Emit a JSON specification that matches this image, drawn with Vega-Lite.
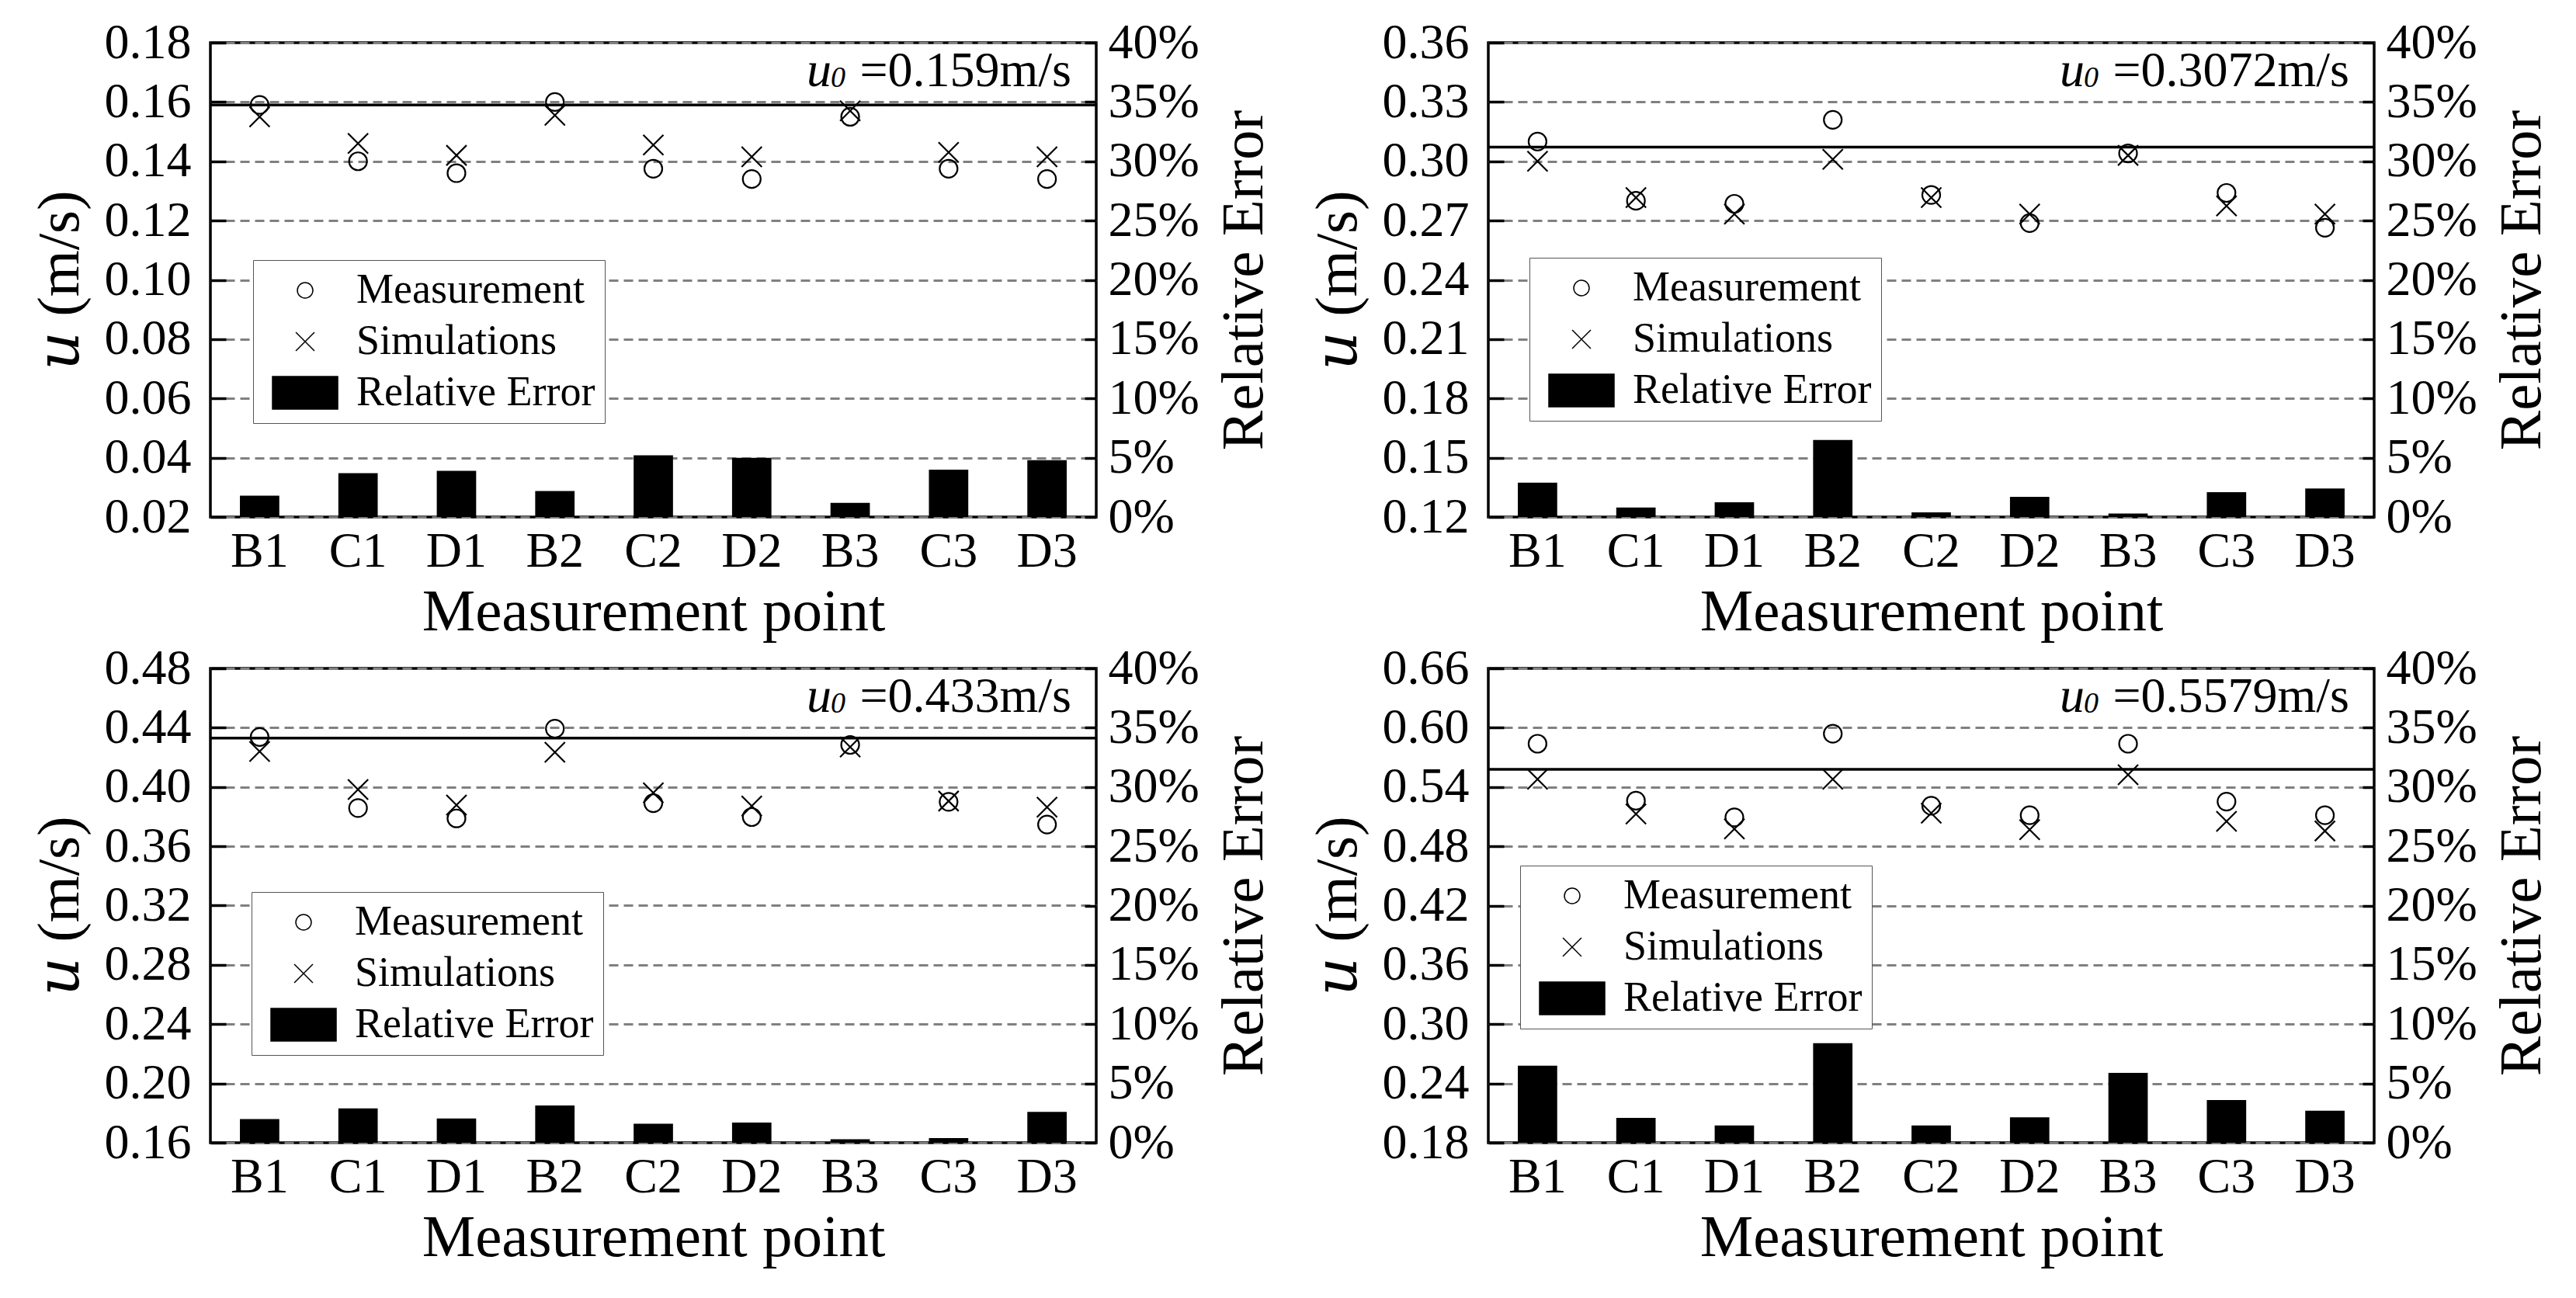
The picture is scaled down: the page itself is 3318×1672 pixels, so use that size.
{
  "$schema": "https://vega.github.io/schema/vega-lite/v6.json",
  "background": "white",
  "padding": {"left": 36, "top": 21, "right": 5, "bottom": 5},
  "datasets": {
    "p1": [
      {"point": "B1", "series": "Measurement", "u": 0.159},
      {"point": "C1", "series": "Measurement", "u": 0.140},
      {"point": "D1", "series": "Measurement", "u": 0.136},
      {"point": "B2", "series": "Measurement", "u": 0.160},
      {"point": "C2", "series": "Measurement", "u": 0.1375},
      {"point": "D2", "series": "Measurement", "u": 0.134},
      {"point": "B3", "series": "Measurement", "u": 0.155},
      {"point": "C3", "series": "Measurement", "u": 0.1375},
      {"point": "D3", "series": "Measurement", "u": 0.134},
      {"point": "B1", "series": "Simulations", "u": 0.155},
      {"point": "C1", "series": "Simulations", "u": 0.146},
      {"point": "D1", "series": "Simulations", "u": 0.142},
      {"point": "B2", "series": "Simulations", "u": 0.1555},
      {"point": "C2", "series": "Simulations", "u": 0.1455},
      {"point": "D2", "series": "Simulations", "u": 0.1415},
      {"point": "B3", "series": "Simulations", "u": 0.157},
      {"point": "C3", "series": "Simulations", "u": 0.143},
      {"point": "D3", "series": "Simulations", "u": 0.1415},
      {"point": "B1", "series": "Relative Error", "err": 0.018},
      {"point": "C1", "series": "Relative Error", "err": 0.037},
      {"point": "D1", "series": "Relative Error", "err": 0.039},
      {"point": "B2", "series": "Relative Error", "err": 0.022},
      {"point": "C2", "series": "Relative Error", "err": 0.052},
      {"point": "D2", "series": "Relative Error", "err": 0.050},
      {"point": "B3", "series": "Relative Error", "err": 0.012},
      {"point": "C3", "series": "Relative Error", "err": 0.040},
      {"point": "D3", "series": "Relative Error", "err": 0.048},
      {"series": "u0", "u": 0.159}
    ],
    "p2": [
      {"point": "B1", "series": "Measurement", "u": 0.310},
      {"point": "C1", "series": "Measurement", "u": 0.280},
      {"point": "D1", "series": "Measurement", "u": 0.2785},
      {"point": "B2", "series": "Measurement", "u": 0.321},
      {"point": "C2", "series": "Measurement", "u": 0.283},
      {"point": "D2", "series": "Measurement", "u": 0.2687},
      {"point": "B3", "series": "Measurement", "u": 0.304},
      {"point": "C3", "series": "Measurement", "u": 0.284},
      {"point": "D3", "series": "Measurement", "u": 0.2664},
      {"point": "B1", "series": "Simulations", "u": 0.300},
      {"point": "C1", "series": "Simulations", "u": 0.2816},
      {"point": "D1", "series": "Simulations", "u": 0.2733},
      {"point": "B2", "series": "Simulations", "u": 0.301},
      {"point": "C2", "series": "Simulations", "u": 0.2816},
      {"point": "D2", "series": "Simulations", "u": 0.2733},
      {"point": "B3", "series": "Simulations", "u": 0.303},
      {"point": "C3", "series": "Simulations", "u": 0.2774},
      {"point": "D3", "series": "Simulations", "u": 0.2733},
      {"point": "B1", "series": "Relative Error", "err": 0.029},
      {"point": "C1", "series": "Relative Error", "err": 0.008},
      {"point": "D1", "series": "Relative Error", "err": 0.0125},
      {"point": "B2", "series": "Relative Error", "err": 0.065},
      {"point": "C2", "series": "Relative Error", "err": 0.004},
      {"point": "D2", "series": "Relative Error", "err": 0.017},
      {"point": "B3", "series": "Relative Error", "err": 0.003},
      {"point": "C3", "series": "Relative Error", "err": 0.021},
      {"point": "D3", "series": "Relative Error", "err": 0.024},
      {"series": "u0", "u": 0.3072}
    ],
    "p3": [
      {"point": "B1", "series": "Measurement", "u": 0.4337},
      {"point": "C1", "series": "Measurement", "u": 0.3858},
      {"point": "D1", "series": "Measurement", "u": 0.3788},
      {"point": "B2", "series": "Measurement", "u": 0.4393},
      {"point": "C2", "series": "Measurement", "u": 0.3891},
      {"point": "D2", "series": "Measurement", "u": 0.3797},
      {"point": "B3", "series": "Measurement", "u": 0.4284},
      {"point": "C3", "series": "Measurement", "u": 0.390},
      {"point": "D3", "series": "Measurement", "u": 0.3747},
      {"point": "B1", "series": "Simulations", "u": 0.424},
      {"point": "C1", "series": "Simulations", "u": 0.3983},
      {"point": "D1", "series": "Simulations", "u": 0.3878},
      {"point": "B2", "series": "Simulations", "u": 0.4234},
      {"point": "C2", "series": "Simulations", "u": 0.3961},
      {"point": "D2", "series": "Simulations", "u": 0.3872},
      {"point": "B3", "series": "Simulations", "u": 0.427},
      {"point": "C3", "series": "Simulations", "u": 0.3905},
      {"point": "D3", "series": "Simulations", "u": 0.3864},
      {"point": "B1", "series": "Relative Error", "err": 0.020},
      {"point": "C1", "series": "Relative Error", "err": 0.029},
      {"point": "D1", "series": "Relative Error", "err": 0.0205},
      {"point": "B2", "series": "Relative Error", "err": 0.0315},
      {"point": "C2", "series": "Relative Error", "err": 0.016},
      {"point": "D2", "series": "Relative Error", "err": 0.017},
      {"point": "B3", "series": "Relative Error", "err": 0.003},
      {"point": "C3", "series": "Relative Error", "err": 0.004},
      {"point": "D3", "series": "Relative Error", "err": 0.026},
      {"series": "u0", "u": 0.433}
    ],
    "p4": [
      {"point": "B1", "series": "Measurement", "u": 0.5838},
      {"point": "C1", "series": "Measurement", "u": 0.5261},
      {"point": "D1", "series": "Measurement", "u": 0.5093},
      {"point": "B2", "series": "Measurement", "u": 0.5939},
      {"point": "C2", "series": "Measurement", "u": 0.521},
      {"point": "D2", "series": "Measurement", "u": 0.5114},
      {"point": "B3", "series": "Measurement", "u": 0.5838},
      {"point": "C3", "series": "Measurement", "u": 0.5252},
      {"point": "D3", "series": "Measurement", "u": 0.5114},
      {"point": "B1", "series": "Simulations", "u": 0.5478},
      {"point": "C1", "series": "Simulations", "u": 0.5127},
      {"point": "D1", "series": "Simulations", "u": 0.4976},
      {"point": "B2", "series": "Simulations", "u": 0.5478},
      {"point": "C2", "series": "Simulations", "u": 0.5135},
      {"point": "D2", "series": "Simulations", "u": 0.4968},
      {"point": "B3", "series": "Simulations", "u": 0.5524},
      {"point": "C3", "series": "Simulations", "u": 0.5052},
      {"point": "D3", "series": "Simulations", "u": 0.4955},
      {"point": "B1", "series": "Relative Error", "err": 0.065},
      {"point": "C1", "series": "Relative Error", "err": 0.021},
      {"point": "D1", "series": "Relative Error", "err": 0.0145},
      {"point": "B2", "series": "Relative Error", "err": 0.084},
      {"point": "C2", "series": "Relative Error", "err": 0.0145},
      {"point": "D2", "series": "Relative Error", "err": 0.0215},
      {"point": "B3", "series": "Relative Error", "err": 0.059},
      {"point": "C3", "series": "Relative Error", "err": 0.036},
      {"point": "D3", "series": "Relative Error", "err": 0.027},
      {"series": "u0", "u": 0.5579}
    ]
  },
  "concat": [
    {
      "width": 1141, "height": 611,
      "data": {"name": "p1"},
      "layer": [
        {
          "transform": [{"filter": "datum.series == 'Relative Error'"}],
          "mark": {"type": "bar", "width": {"band": 0.4}},
          "encoding": {
            "x": {"field": "point", "type": "nominal", "scale": {"domain": ["B1","C1","D1","B2","C2","D2","B3","C3","D3"], "paddingInner": 0, "paddingOuter": 0}, "axis": {"title": "Measurement point", "labelAngle": 0, "ticks": false, "labelPadding": 12, "titlePadding": 8}},
            "y": {"field": "err", "type": "quantitative", "scale": {"domain": [0, 0.4], "nice": false}, "axis": {"orient": "right", "values": [0,0.05,0.1,0.15,0.2,0.25,0.3,0.35,0.4], "format": ".0%", "grid": false, "tickSize": -15, "labelPadding": 30, "title": "Relative Error", "titleAngle": 270, "titleBaseline": "top", "titlePadding": 20}},
            "fill": {"field": "series", "type": "nominal", "scale": {"domain": ["Measurement","Simulations","Relative Error"], "range": ["transparent","transparent","black"]}, "legend": {"title": null, "orient": "none", "legendX": 55, "legendY": 280}}
          }
        },
        {
          "layer": [
            {
              "transform": [{"filter": "datum.series == 'Measurement'"}],
              "mark": {"type": "point", "filled": false, "stroke": "black", "strokeWidth": 2.2, "size": 2333, "opacity": 1},
              "encoding": {
                "x": {"field": "point", "type": "nominal"},
                "y": {"field": "u", "type": "quantitative", "scale": {"domain": [0.02, 0.18], "nice": false, "zero": false}, "axis": {"orient": "left", "values": [0.02,0.04,0.06,0.08,0.1,0.12,0.14,0.16,0.18], "format": ".2f", "title": "𝑢 (m/s)", "titleFont": "Liberation Serif, DejaVu Serif, serif", "grid": true, "tickSize": -20, "labelPadding": 45, "titlePadding": 18}},
                "shape": {"field": "series", "type": "nominal", "scale": {"domain": ["Measurement","Simulations","Relative Error"], "range": ["M0.476,0A0.476,0.476,0,1,1,-0.476,0A0.476,0.476,0,1,1,0.476,0Z","M-0.57,-0.57L0.57,0.57M-0.57,0.57L0.57,-0.57","M-2,-1H2V1H-2Z"]}, "legend": {"title": null, "orient": "none", "legendX": 55, "legendY": 280}},
                "fill": {"field": "series", "type": "nominal", "legend": {"title": null, "orient": "none", "legendX": 55, "legendY": 280}}
              }
            },
            {
              "transform": [{"filter": "datum.series == 'Simulations'"}],
              "mark": {"type": "point", "filled": false, "stroke": "black", "strokeWidth": 2.2, "size": 2080, "opacity": 1},
              "encoding": {
                "x": {"field": "point", "type": "nominal"},
                "y": {"field": "u", "type": "quantitative", "title": "𝑢 (m/s)"},
                "shape": {"field": "series", "type": "nominal", "legend": {"title": null, "orient": "none", "legendX": 55, "legendY": 280}},
                "fill": {"field": "series", "type": "nominal", "legend": {"title": null, "orient": "none", "legendX": 55, "legendY": 280}}
              }
            },
            {
              "transform": [{"filter": "datum.series == 'u0'"}],
              "mark": {"type": "rule", "stroke": "black", "strokeWidth": 3.5},
              "encoding": {"y": {"field": "u", "type": "quantitative", "title": "𝑢 (m/s)"}}
            },
            {
              "transform": [{"filter": "datum.series == 'u0'"}],
              "mark": {"type": "text", "text": "u", "fontStyle": "italic", "font": "Liberation Serif", "fontSize": 64, "align": "right", "baseline": "alphabetic", "dx": -341, "color": "black"},
              "encoding": {"x": {"datum": "D3", "bandPosition": 1}, "y": {"datum": 0.1653, "title": "𝑢 (m/s)"}}
            },
            {
              "transform": [{"filter": "datum.series == 'u0'"}],
              "mark": {"type": "text", "text": "0", "fontStyle": "italic", "font": "Liberation Serif", "fontSize": 38, "align": "right", "baseline": "alphabetic", "dx": -323, "dy": 1, "color": "black"},
              "encoding": {"x": {"datum": "D3", "bandPosition": 1}, "y": {"datum": 0.1653, "title": "𝑢 (m/s)"}}
            },
            {
              "transform": [{"filter": "datum.series == 'u0'"}],
              "mark": {"type": "text", "text": "=0.159m/s", "font": "Liberation Serif", "fontSize": 64, "align": "right", "baseline": "alphabetic", "dx": -32, "color": "black"},
              "encoding": {"x": {"datum": "D3", "bandPosition": 1}, "y": {"datum": 0.1653, "title": "𝑢 (m/s)"}}
            }
          ]
        }
      ],
      "resolve": {"scale": {"y": "independent"}}
    },
    {
      "width": 1141, "height": 611,
      "data": {"name": "p2"},
      "layer": [
        {
          "transform": [{"filter": "datum.series == 'Relative Error'"}],
          "mark": {"type": "bar", "width": {"band": 0.4}},
          "encoding": {
            "x": {"field": "point", "type": "nominal", "scale": {"domain": ["B1","C1","D1","B2","C2","D2","B3","C3","D3"], "paddingInner": 0, "paddingOuter": 0}, "axis": {"title": "Measurement point", "labelAngle": 0, "ticks": false, "labelPadding": 12, "titlePadding": 8}},
            "y": {"field": "err", "type": "quantitative", "scale": {"domain": [0, 0.4], "nice": false}, "axis": {"orient": "right", "values": [0,0.05,0.1,0.15,0.2,0.25,0.3,0.35,0.4], "format": ".0%", "grid": false, "tickSize": -15, "labelPadding": 30, "title": "Relative Error", "titleAngle": 270, "titleBaseline": "top", "titlePadding": 20}},
            "fill": {"field": "series", "type": "nominal", "scale": {"domain": ["Measurement","Simulations","Relative Error"], "range": ["transparent","transparent","black"]}, "legend": {"title": null, "orient": "none", "legendX": 53, "legendY": 277}}
          }
        },
        {
          "layer": [
            {
              "transform": [{"filter": "datum.series == 'Measurement'"}],
              "mark": {"type": "point", "filled": false, "stroke": "black", "strokeWidth": 2.2, "size": 2333, "opacity": 1},
              "encoding": {
                "x": {"field": "point", "type": "nominal"},
                "y": {"field": "u", "type": "quantitative", "scale": {"domain": [0.12, 0.36], "nice": false, "zero": false}, "axis": {"orient": "left", "values": [0.12,0.15,0.18,0.21,0.24,0.27,0.3,0.33,0.36], "format": ".2f", "title": "𝑢 (m/s)", "titleFont": "Liberation Serif, DejaVu Serif, serif", "grid": true, "tickSize": -20, "labelPadding": 45, "titlePadding": 18}},
                "shape": {"field": "series", "type": "nominal", "scale": {"domain": ["Measurement","Simulations","Relative Error"], "range": ["M0.476,0A0.476,0.476,0,1,1,-0.476,0A0.476,0.476,0,1,1,0.476,0Z","M-0.57,-0.57L0.57,0.57M-0.57,0.57L0.57,-0.57","M-2,-1H2V1H-2Z"]}, "legend": {"title": null, "orient": "none", "legendX": 53, "legendY": 277}},
                "fill": {"field": "series", "type": "nominal", "legend": {"title": null, "orient": "none", "legendX": 53, "legendY": 277}}
              }
            },
            {
              "transform": [{"filter": "datum.series == 'Simulations'"}],
              "mark": {"type": "point", "filled": false, "stroke": "black", "strokeWidth": 2.2, "size": 2080, "opacity": 1},
              "encoding": {
                "x": {"field": "point", "type": "nominal"},
                "y": {"field": "u", "type": "quantitative", "title": "𝑢 (m/s)"},
                "shape": {"field": "series", "type": "nominal", "legend": {"title": null, "orient": "none", "legendX": 53, "legendY": 277}},
                "fill": {"field": "series", "type": "nominal", "legend": {"title": null, "orient": "none", "legendX": 53, "legendY": 277}}
              }
            },
            {
              "transform": [{"filter": "datum.series == 'u0'"}],
              "mark": {"type": "rule", "stroke": "black", "strokeWidth": 3.5},
              "encoding": {"y": {"field": "u", "type": "quantitative", "title": "𝑢 (m/s)"}}
            },
            {
              "transform": [{"filter": "datum.series == 'u0'"}],
              "mark": {"type": "text", "text": "u", "fontStyle": "italic", "font": "Liberation Serif", "fontSize": 64, "align": "right", "baseline": "alphabetic", "dx": -373, "color": "black"},
              "encoding": {"x": {"datum": "D3", "bandPosition": 1}, "y": {"datum": 0.338, "title": "𝑢 (m/s)"}}
            },
            {
              "transform": [{"filter": "datum.series == 'u0'"}],
              "mark": {"type": "text", "text": "0", "fontStyle": "italic", "font": "Liberation Serif", "fontSize": 38, "align": "right", "baseline": "alphabetic", "dx": -355, "dy": 1, "color": "black"},
              "encoding": {"x": {"datum": "D3", "bandPosition": 1}, "y": {"datum": 0.338, "title": "𝑢 (m/s)"}}
            },
            {
              "transform": [{"filter": "datum.series == 'u0'"}],
              "mark": {"type": "text", "text": "=0.3072m/s", "font": "Liberation Serif", "fontSize": 64, "align": "right", "baseline": "alphabetic", "dx": -32, "color": "black"},
              "encoding": {"x": {"datum": "D3", "bandPosition": 1}, "y": {"datum": 0.338, "title": "𝑢 (m/s)"}}
            }
          ]
        }
      ],
      "resolve": {"scale": {"y": "independent"}}
    },
    {
      "width": 1141, "height": 611,
      "data": {"name": "p3"},
      "layer": [
        {
          "transform": [{"filter": "datum.series == 'Relative Error'"}],
          "mark": {"type": "bar", "width": {"band": 0.4}},
          "encoding": {
            "x": {"field": "point", "type": "nominal", "scale": {"domain": ["B1","C1","D1","B2","C2","D2","B3","C3","D3"], "paddingInner": 0, "paddingOuter": 0}, "axis": {"title": "Measurement point", "labelAngle": 0, "ticks": false, "labelPadding": 12, "titlePadding": 8}},
            "y": {"field": "err", "type": "quantitative", "scale": {"domain": [0, 0.4], "nice": false}, "axis": {"orient": "right", "values": [0,0.05,0.1,0.15,0.2,0.25,0.3,0.35,0.4], "format": ".0%", "grid": false, "tickSize": -15, "labelPadding": 30, "title": "Relative Error", "titleAngle": 270, "titleBaseline": "top", "titlePadding": 20}},
            "fill": {"field": "series", "type": "nominal", "scale": {"domain": ["Measurement","Simulations","Relative Error"], "range": ["transparent","transparent","black"]}, "legend": {"title": null, "orient": "none", "legendX": 53, "legendY": 288}}
          }
        },
        {
          "layer": [
            {
              "transform": [{"filter": "datum.series == 'Measurement'"}],
              "mark": {"type": "point", "filled": false, "stroke": "black", "strokeWidth": 2.2, "size": 2333, "opacity": 1},
              "encoding": {
                "x": {"field": "point", "type": "nominal"},
                "y": {"field": "u", "type": "quantitative", "scale": {"domain": [0.16, 0.48], "nice": false, "zero": false}, "axis": {"orient": "left", "values": [0.16,0.2,0.24,0.28,0.32,0.36,0.4,0.44,0.48], "format": ".2f", "title": "𝑢 (m/s)", "titleFont": "Liberation Serif, DejaVu Serif, serif", "grid": true, "tickSize": -20, "labelPadding": 45, "titlePadding": 18}},
                "shape": {"field": "series", "type": "nominal", "scale": {"domain": ["Measurement","Simulations","Relative Error"], "range": ["M0.476,0A0.476,0.476,0,1,1,-0.476,0A0.476,0.476,0,1,1,0.476,0Z","M-0.57,-0.57L0.57,0.57M-0.57,0.57L0.57,-0.57","M-2,-1H2V1H-2Z"]}, "legend": {"title": null, "orient": "none", "legendX": 53, "legendY": 288}},
                "fill": {"field": "series", "type": "nominal", "legend": {"title": null, "orient": "none", "legendX": 53, "legendY": 288}}
              }
            },
            {
              "transform": [{"filter": "datum.series == 'Simulations'"}],
              "mark": {"type": "point", "filled": false, "stroke": "black", "strokeWidth": 2.2, "size": 2080, "opacity": 1},
              "encoding": {
                "x": {"field": "point", "type": "nominal"},
                "y": {"field": "u", "type": "quantitative", "title": "𝑢 (m/s)"},
                "shape": {"field": "series", "type": "nominal", "legend": {"title": null, "orient": "none", "legendX": 53, "legendY": 288}},
                "fill": {"field": "series", "type": "nominal", "legend": {"title": null, "orient": "none", "legendX": 53, "legendY": 288}}
              }
            },
            {
              "transform": [{"filter": "datum.series == 'u0'"}],
              "mark": {"type": "rule", "stroke": "black", "strokeWidth": 3.5},
              "encoding": {"y": {"field": "u", "type": "quantitative", "title": "𝑢 (m/s)"}}
            },
            {
              "transform": [{"filter": "datum.series == 'u0'"}],
              "mark": {"type": "text", "text": "u", "fontStyle": "italic", "font": "Liberation Serif", "fontSize": 64, "align": "right", "baseline": "alphabetic", "dx": -341, "color": "black"},
              "encoding": {"x": {"datum": "D3", "bandPosition": 1}, "y": {"datum": 0.4507, "title": "𝑢 (m/s)"}}
            },
            {
              "transform": [{"filter": "datum.series == 'u0'"}],
              "mark": {"type": "text", "text": "0", "fontStyle": "italic", "font": "Liberation Serif", "fontSize": 38, "align": "right", "baseline": "alphabetic", "dx": -323, "dy": 1, "color": "black"},
              "encoding": {"x": {"datum": "D3", "bandPosition": 1}, "y": {"datum": 0.4507, "title": "𝑢 (m/s)"}}
            },
            {
              "transform": [{"filter": "datum.series == 'u0'"}],
              "mark": {"type": "text", "text": "=0.433m/s", "font": "Liberation Serif", "fontSize": 64, "align": "right", "baseline": "alphabetic", "dx": -32, "color": "black"},
              "encoding": {"x": {"datum": "D3", "bandPosition": 1}, "y": {"datum": 0.4507, "title": "𝑢 (m/s)"}}
            }
          ]
        }
      ],
      "resolve": {"scale": {"y": "independent"}}
    },
    {
      "width": 1141, "height": 611,
      "data": {"name": "p4"},
      "layer": [
        {
          "transform": [{"filter": "datum.series == 'Relative Error'"}],
          "mark": {"type": "bar", "width": {"band": 0.4}},
          "encoding": {
            "x": {"field": "point", "type": "nominal", "scale": {"domain": ["B1","C1","D1","B2","C2","D2","B3","C3","D3"], "paddingInner": 0, "paddingOuter": 0}, "axis": {"title": "Measurement point", "labelAngle": 0, "ticks": false, "labelPadding": 12, "titlePadding": 8}},
            "y": {"field": "err", "type": "quantitative", "scale": {"domain": [0, 0.4], "nice": false}, "axis": {"orient": "right", "values": [0,0.05,0.1,0.15,0.2,0.25,0.3,0.35,0.4], "format": ".0%", "grid": false, "tickSize": -15, "labelPadding": 30, "title": "Relative Error", "titleAngle": 270, "titleBaseline": "top", "titlePadding": 20}},
            "fill": {"field": "series", "type": "nominal", "scale": {"domain": ["Measurement","Simulations","Relative Error"], "range": ["transparent","transparent","black"]}, "legend": {"title": null, "orient": "none", "legendX": 41, "legendY": 254}}
          }
        },
        {
          "layer": [
            {
              "transform": [{"filter": "datum.series == 'Measurement'"}],
              "mark": {"type": "point", "filled": false, "stroke": "black", "strokeWidth": 2.2, "size": 2333, "opacity": 1},
              "encoding": {
                "x": {"field": "point", "type": "nominal"},
                "y": {"field": "u", "type": "quantitative", "scale": {"domain": [0.18, 0.66], "nice": false, "zero": false}, "axis": {"orient": "left", "values": [0.18,0.24,0.3,0.36,0.42,0.48,0.54,0.6,0.66], "format": ".2f", "title": "𝑢 (m/s)", "titleFont": "Liberation Serif, DejaVu Serif, serif", "grid": true, "tickSize": -20, "labelPadding": 45, "titlePadding": 18}},
                "shape": {"field": "series", "type": "nominal", "scale": {"domain": ["Measurement","Simulations","Relative Error"], "range": ["M0.476,0A0.476,0.476,0,1,1,-0.476,0A0.476,0.476,0,1,1,0.476,0Z","M-0.57,-0.57L0.57,0.57M-0.57,0.57L0.57,-0.57","M-2,-1H2V1H-2Z"]}, "legend": {"title": null, "orient": "none", "legendX": 41, "legendY": 254}},
                "fill": {"field": "series", "type": "nominal", "legend": {"title": null, "orient": "none", "legendX": 41, "legendY": 254}}
              }
            },
            {
              "transform": [{"filter": "datum.series == 'Simulations'"}],
              "mark": {"type": "point", "filled": false, "stroke": "black", "strokeWidth": 2.2, "size": 2080, "opacity": 1},
              "encoding": {
                "x": {"field": "point", "type": "nominal"},
                "y": {"field": "u", "type": "quantitative", "title": "𝑢 (m/s)"},
                "shape": {"field": "series", "type": "nominal", "legend": {"title": null, "orient": "none", "legendX": 41, "legendY": 254}},
                "fill": {"field": "series", "type": "nominal", "legend": {"title": null, "orient": "none", "legendX": 41, "legendY": 254}}
              }
            },
            {
              "transform": [{"filter": "datum.series == 'u0'"}],
              "mark": {"type": "rule", "stroke": "black", "strokeWidth": 3.5},
              "encoding": {"y": {"field": "u", "type": "quantitative", "title": "𝑢 (m/s)"}}
            },
            {
              "transform": [{"filter": "datum.series == 'u0'"}],
              "mark": {"type": "text", "text": "u", "fontStyle": "italic", "font": "Liberation Serif", "fontSize": 64, "align": "right", "baseline": "alphabetic", "dx": -373, "color": "black"},
              "encoding": {"x": {"datum": "D3", "bandPosition": 1}, "y": {"datum": 0.616, "title": "𝑢 (m/s)"}}
            },
            {
              "transform": [{"filter": "datum.series == 'u0'"}],
              "mark": {"type": "text", "text": "0", "fontStyle": "italic", "font": "Liberation Serif", "fontSize": 38, "align": "right", "baseline": "alphabetic", "dx": -355, "dy": 1, "color": "black"},
              "encoding": {"x": {"datum": "D3", "bandPosition": 1}, "y": {"datum": 0.616, "title": "𝑢 (m/s)"}}
            },
            {
              "transform": [{"filter": "datum.series == 'u0'"}],
              "mark": {"type": "text", "text": "=0.5579m/s", "font": "Liberation Serif", "fontSize": 64, "align": "right", "baseline": "alphabetic", "dx": -32, "color": "black"},
              "encoding": {"x": {"datum": "D3", "bandPosition": 1}, "y": {"datum": 0.616, "title": "𝑢 (m/s)"}}
            }
          ]
        }
      ],
      "resolve": {"scale": {"y": "independent"}}
    }
  ],
  "columns": 2,
  "spacing": {"row": 195, "column": 505},
  "bounds": "flush",
  "resolve": {
    "scale": {"fill": "independent", "shape": "independent"},
    "legend": {"fill": "independent", "shape": "independent"}
  },
  "config": {
    "font": "Liberation Serif",
    "view": {"stroke": "black", "strokeWidth": 3.5},
    "axis": {
      "labelFont": "Liberation Serif", "labelFontSize": 64, "labelColor": "black",
      "titleFont": "Liberation Serif", "titleFontSize": 77, "titleFontWeight": "normal", "titleColor": "black",
      "tickColor": "black", "tickWidth": 3.5, "domain": false,
      "gridColor": "#808080", "gridDash": [12, 7], "gridWidth": 3
    },
    "axisX": {"grid": false},
    "legend": {
      "labelFont": "Liberation Serif", "labelFontSize": 54, "labelColor": "black", "labelLimit": 0,
      "symbolSize": 1764, "symbolStrokeColor": "black", "symbolStrokeWidth": 1.5,
      "strokeColor": "#555555", "fillColor": "white",
      "padding": 12, "rowPadding": 12, "labelOffset": 39, "symbolOffset": 28
    }
  }
}
